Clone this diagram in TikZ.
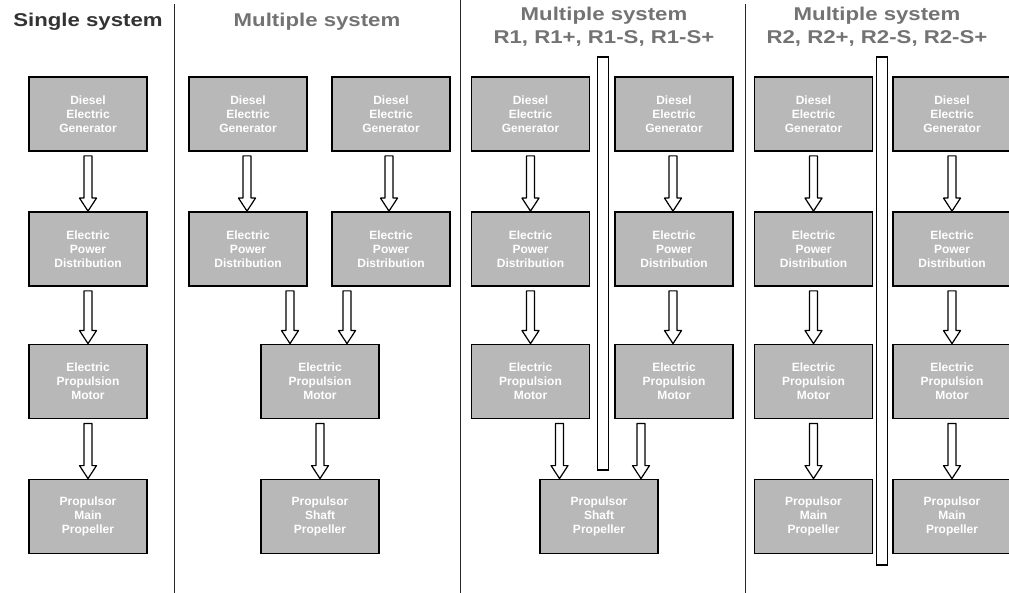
\documentclass[tikz,border=0pt]{standalone}
\usepackage{fontspec}
\setmainfont{Liberation Sans}
\newfontfamily\titlefont[FakeStretch=1.2]{Liberation Sans}
\usetikzlibrary{calc}
\begin{document}
\begin{tikzpicture}[x=1pt,y=-1pt,
  box/.style={draw=black, line width=1.8pt, fill=black!28, text=white,
    font=\bfseries\fontsize{12}{14}\selectfont, align=center,
    minimum width=118pt, minimum height=74pt, inner sep=2pt},
  title/.style={font=\titlefont\bfseries\fontsize{18.5}{23}\selectfont, align=center, inner sep=0pt},
  bar/.style={draw=black, line width=1.2pt, fill=white, minimum width=11pt, inner sep=0pt},
  sep/.style={draw=black!85, line width=0.9pt},
  blk/.style={draw=black, line width=1.2pt, fill=white, line join=round,
    to path={let \p1=(\tikztostart), \p2=(\tikztotarget) in
      (\x1-4pt,\y1) -- (\x1+4pt,\y1) -- (\x1+4pt,\y2+13pt) -- (\x1+8.5pt,\y2+13pt)
      -- (\x1,\y2) -- (\x1-8.5pt,\y2+13pt) -- (\x1-4pt,\y2+13pt) -- cycle}}
]
\useasboundingbox (0,0) rectangle (1009,593);
\begin{scope}
\clip (0,0) rectangle (1009,593);

% separators
\draw[sep] (174,4) -- (174,593);
\draw[sep] (460,0) -- (460,593);
\draw[sep] (745,4) -- (745,593);

% titles
\node[title, text=black!80] (t1) at (88,22) {Single system};
\node[title, text=black!55] (t2) at (317,22) {Multiple system};
\node[title, text=black!55] (t3) at (604,27) {Multiple system\\R1, R1+, R1-S, R1-S+};
\node[title, text=black!55] (t4) at (877,27) {Multiple system\\R2, R2+, R2-S, R2-S+};

% bars
\node[bar, minimum height=413pt] (bar3) at (603,263.5) {};
\node[bar, minimum height=508pt] (bar4) at (882,311) {};

% column 1
\node[box] (a1) at (88,114) {Diesel\\Electric\\Generator};
\node[box] (a2) at (88,249) {Electric\\Power\\Distribution};
\node[box] (a3) at (88,381.5) {Electric\\Propulsion\\Motor};
\node[box] (a4) at (88,516.5) {Propulsor\\Main\\Propeller};

% column 2
\node[box] (b1l) at (248,114) {Diesel\\Electric\\Generator};
\node[box] (b1r) at (391,114) {Diesel\\Electric\\Generator};
\node[box] (b2l) at (248,249) {Electric\\Power\\Distribution};
\node[box] (b2r) at (391,249) {Electric\\Power\\Distribution};
\node[box] (b3) at (320,381.5) {Electric\\Propulsion\\Motor};
\node[box] (b4) at (320,516.5) {Propulsor\\Shaft\\Propeller};

% column 3
\node[box] (c1l) at (530.5,114) {Diesel\\Electric\\Generator};
\node[box] (c1r) at (674,114) {Diesel\\Electric\\Generator};
\node[box] (c2l) at (530.5,249) {Electric\\Power\\Distribution};
\node[box] (c2r) at (674,249) {Electric\\Power\\Distribution};
\node[box] (c3l) at (530.5,381.5) {Electric\\Propulsion\\Motor};
\node[box] (c3r) at (674,381.5) {Electric\\Propulsion\\Motor};
\node[box] (c4) at (599,516.5) {Propulsor\\Shaft\\Propeller};

% column 4
\node[box] (d1l) at (813.5,114) {Diesel\\Electric\\Generator};
\node[box] (d1r) at (952,114) {Diesel\\Electric\\Generator};
\node[box] (d2l) at (813.5,249) {Electric\\Power\\Distribution};
\node[box] (d2r) at (952,249) {Electric\\Power\\Distribution};
\node[box] (d3l) at (813.5,381.5) {Electric\\Propulsion\\Motor};
\node[box] (d3r) at (952,381.5) {Electric\\Propulsion\\Motor};
\node[box] (d4l) at (813.5,516.5) {Propulsor\\Main\\Propeller};
\node[box] (d4r) at (952,516.5) {Propulsor\\Main\\Propeller};

% arrows column 1
\draw[blk] ($(a1.south)+(0,4)$) to (a2.north);
\draw[blk] ($(a2.south)+(0,4)$) to (a3.north);
\draw[blk] ($(a3.south)+(0,4)$) to (a4.north);

% arrows column 2
\draw[blk] ($(b1l.south)+(-1,4)$) to ($(b2l.north)+(-1,0)$);
\draw[blk] ($(b1r.south)+(-2,4)$) to ($(b2r.north)+(-2,0)$);
\coordinate (b2lo) at ($(b2l.south)+(42,4)$);
\coordinate (b2ro) at ($(b2r.south)+(-44,4)$);
\coordinate (b3il) at (b3.north -| b2lo);
\coordinate (b3ir) at (b3.north -| b2ro);
\draw[blk] (b2lo) to (b3il);
\draw[blk] (b2ro) to (b3ir);
\draw[blk] ($(b3.south)+(0,4)$) to (b4.north);

% arrows column 3
\draw[blk] ($(c1l.south)+(0,4)$) to (c2l.north);
\draw[blk] ($(c1r.south)+(-1,4)$) to ($(c2r.north)+(-1,0)$);
\draw[blk] ($(c2l.south)+(0,4)$) to (c3l.north);
\draw[blk] ($(c2r.south)+(-1,4)$) to ($(c3r.north)+(-1,0)$);
\coordinate (c3lo) at ($(c3l.south)+(29,4)$);
\coordinate (c3ro) at ($(c3r.south)+(-33,4)$);
\coordinate (c4il) at (c4.north -| c3lo);
\coordinate (c4ir) at (c4.north -| c3ro);
\draw[blk] (c3lo) to (c4il);
\draw[blk] (c3ro) to (c4ir);

% arrows column 4
\draw[blk] ($(d1l.south)+(0,4)$) to (d2l.north);
\draw[blk] ($(d2l.south)+(0,4)$) to (d3l.north);
\draw[blk] ($(d3l.south)+(0,4)$) to (d4l.north);
\draw[blk] ($(d1r.south)+(0,4)$) to (d2r.north);
\draw[blk] ($(d2r.south)+(0,4)$) to (d3r.north);
\draw[blk] ($(d3r.south)+(0,4)$) to (d4r.north);
\end{scope}
\end{tikzpicture}
\end{document}
